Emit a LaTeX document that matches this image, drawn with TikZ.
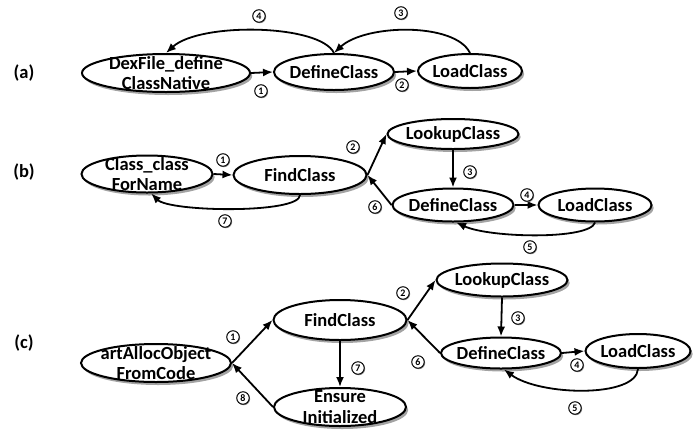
\documentclass[tikz,border=0pt]{standalone}
\usepackage{fontspec}
\setmainfont{Carlito}
\usetikzlibrary{shapes.geometric,shadows,arrows.meta}

% function node: name, centre, width, height, text
\newcommand\fnode[5]{%
  \node[fn, minimum width=#3pt, minimum height=#4pt] (#1) at (#2) {};
  \node[txt] (#1-t) at (#1) {#5};
}

\begin{document}
\begin{tikzpicture}[x=1pt,y=-1pt,
  fn/.style={ellipse, draw, line width=2pt, fill=white, inner sep=0pt,
    drop shadow={shadow xshift=2.2pt, shadow yshift=-3pt, fill=black!45, opacity=0.8}},
  txt/.style={font=\bfseries\fontsize{18.5}{20.5}\selectfont, align=center, inner sep=0pt},
  arr/.style={line width=1.8pt, -{Latex[length=10pt,width=8pt]}},
  num/.style={circle, draw, line width=1pt, minimum size=12.5pt, inner sep=0pt, fill=white,
    font=\bfseries\fontsize{10}{10}\selectfont,
    drop shadow={shadow xshift=0.9pt, shadow yshift=-1pt, fill=black!40, opacity=1}},
  panel/.style={font=\bfseries\fontsize{18.5}{18.5}\selectfont}]

\useasboundingbox (0,0) rectangle (694,432);

% ---------- (a) ----------
\node[panel] (pa) at (24,73) {(a)};
\fnode{dexa}{166,73}{168}{38}{DexFile\_define\\ClassNative}
\fnode{defa}{334,72}{120}{36}{DefineClass}
\fnode{loada}{470,71}{104}{34}{LoadClass}

\draw[arr] (dexa.east) -- (defa.west);
\draw[arr] (defa.east) -- (loada.west);
\draw[arr] (loada.north) .. controls (455,22) and (365,24) .. (defa.north);
\draw[arr] (defa.north) .. controls (320,24) and (200,22) .. (dexa.north);

\node[num] (a1) at (261,91) {1};
\node[num] (a2) at (402,85) {2};
\node[num] (a3) at (401,13) {3};
\node[num] (a4) at (259,16) {4};

% ---------- (b) ----------
\node[panel] (pb) at (24,172) {(b)};
\fnode{cfb}{147,174}{131}{37}{Class\_class\\ForName}
\fnode{findb}{300,175}{133}{38}{FindClass}
\fnode{lookb}{453,134}{131}{30}{LookupClass}
\fnode{defb}{453,205}{121}{33}{DefineClass}
\fnode{loadb}{595,205}{113}{33}{LoadClass}

\draw[arr] (cfb.east) -- (findb.west);
\draw[arr] (findb.east) -- (lookb.west);
\draw[arr] (lookb.south) -- (defb.north);
\draw[arr] (defb.east) -- (loadb.west);
\draw[arr] (loadb.south) .. controls (590,240) and (490,238) .. (defb.-80);
\draw[arr] (defb.west) -- (findb.east);
\draw[arr] (findb.south) .. controls (300,214) and (170,212) .. (cfb.-78);

\node[num] (b1) at (223,160) {1};
\node[num] (b2) at (353,147) {2};
\node[num] (b3) at (470,172) {3};
\node[num] (b4) at (527,195) {4};
\node[num] (b5) at (530,247) {5};
\node[num] (b6) at (375,207) {6};
\node[num] (b7) at (225,221) {7};

% ---------- (c) ----------
\node[panel] (pc) at (24,343) {(c)};
\fnode{artc}{156,363}{150}{38}{artAllocObject\\FromCode}
\fnode{findc}{340,320}{133}{40}{FindClass}
\fnode{ensc}{340,407}{132}{38}{Ensure\\Initialized}
\fnode{lookc}{502,280}{131}{33}{LookupClass}
\fnode{defc}{501,353}{120}{31}{DefineClass}
\fnode{loadc}{638,351}{105}{34}{LoadClass}

\draw[arr] (artc.east) -- (findc.west);
\draw[arr] (findc.east) -- (lookc.west);
\draw[arr] (lookc.south) -- (defc.north);
\draw[arr] (defc.east) -- (loadc.west);
\draw[arr] (loadc.south) .. controls (636,398) and (540,396) .. (defc.-80);
\draw[arr] (defc.west) -- (findc.east);
\draw[arr] (findc.south) -- (ensc.north);
\draw[arr] (ensc.west) -- (artc.east);

\node[num] (c1) at (233,337) {1};
\node[num] (c2) at (403,293) {2};
\node[num] (c3) at (518,318) {3};
\node[num] (c4) at (577,365) {4};
\node[num] (c5) at (575,408) {5};
\node[num] (c6) at (418,362) {6};
\node[num] (c7) at (358,368) {7};
\node[num] (c8) at (243,398) {8};

\end{tikzpicture}
\end{document}
